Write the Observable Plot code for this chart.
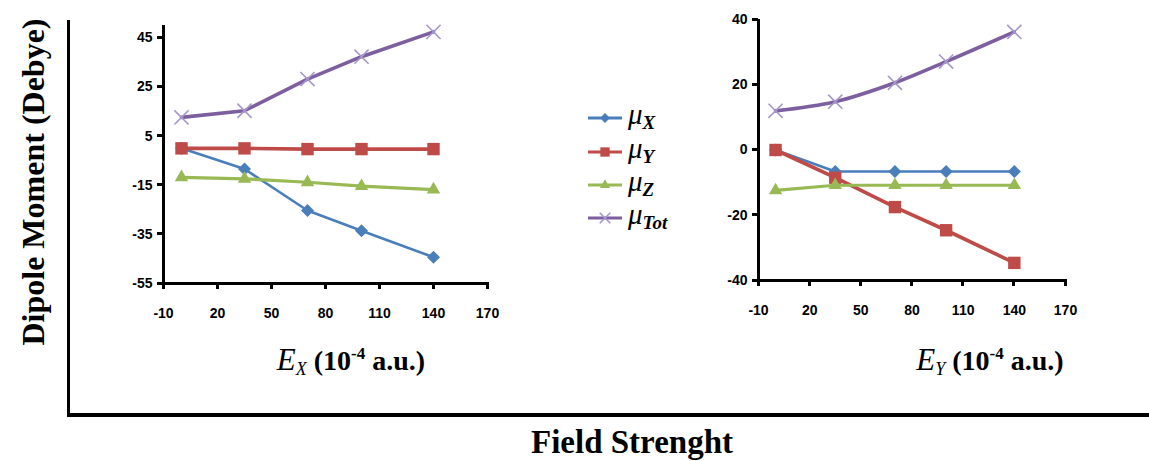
<!DOCTYPE html>
<html>
<head>
<meta charset="utf-8">
<script src="https://cdn.jsdelivr.net/npm/d3@7"></script>
<script src="https://cdn.jsdelivr.net/npm/@observablehq/plot@0.6"></script>
</head>
<body style="margin:0;background:#fff">
<div id="wrap" style="position:relative;width:1149px;height:461px;background:#fff"></div>
<script>
// ---------- data ----------
const fieldValues = [0, 35, 70, 100, 140];
const xTicks = [-10, 20, 50, 80, 110, 140, 170];

const seriesKeys = ["μX", "μY", "μZ", "μTot"];
const seriesSubs = ["X", "Y", "Z", "Tot"];

// Panel 1: field along X
const exMuX   = [0, -8.4, -25.3, -33.5, -44.3];
const exMuY   = [0, 0, -0.3, -0.3, -0.3];
const exMuZ   = [-11.8, -12.4, -13.8, -15.4, -16.8];
const exMuTot = [12.6, 15.3, 28.2, 37.3, 47.4];
const exYTicks = [-55, -35, -15, 5, 25, 45];

// Panel 2: field along Y
const eyMuX   = [0, -6.6, -6.6, -6.6, -6.6];
const eyMuY   = [0, -8.5, -17.5, -24.6, -34.6];
const eyMuZ   = [-12.4, -10.8, -10.8, -10.8, -10.8];
const eyMuTot = [12, 14.8, 20.6, 27.1, 36.2];
const eyYTicks = [-40, -20, 0, 20, 40];

// ---------- styles ----------
const styleOf = {
  "μX":   {color: "#4a7ebb", width: 2.6, symbol: "square",   rot: 45, r: 5.2, fill: "#4a7ebb", stroke: "none"},
  "μY":   {color: "#be4b48", width: 3.6, symbol: "square",   rot: 0,  r: 7.0, fill: "#be4b48", stroke: "none"},
  "μZ":   {color: "#98b954", width: 3.2, symbol: "triangle", rot: 0,  r: 5.0, fill: "#98b954", stroke: "none"},
  "μTot": {color: "#7d5fa0", width: 3.6, symbol: "times",    rot: 0,  r: 6.5, fill: "none",    stroke: "#a597c9"}
};

function buildRows(vals) {
  return seriesKeys.flatMap((k, j) => fieldValues.map((x, i) => ({x, y: vals[j][i], key: k})));
}

function panel({vals, yDomain, yTicks, width, height, mL, mT, mB, mR, curveTot}) {
  const rows = buildRows(vals);
  const marks = [];
  for (const k of seriesKeys) {
    const s = styleOf[k];
    const d = rows.filter(r => r.key === k);
    marks.push(Plot.line(d, {x: "x", y: "y", stroke: s.color, strokeWidth: s.width,
      curve: (k === "μTot" && curveTot) ? "catmull-rom" : "linear"}));
    const dotOpts = {x: "x", y: "y", symbol: s.symbol, r: s.r, rotate: s.rot};
    if (s.fill !== "none") { dotOpts.fill = s.fill; }
    else { dotOpts.stroke = s.stroke; dotOpts.strokeWidth = 1.6; }
    marks.push(Plot.dot(d, dotOpts));
  }
  marks.push(
    Plot.axisX({ticks: xTicks, tickSize: 0, tickPadding: 25, tickFormat: d => String(d), label: null}),
    Plot.axisY({ticks: yTicks, tickSize: 0, tickPadding: 11, tickFormat: d => String(d), label: null})
  );
  return Plot.plot({
    width, height, marginLeft: mL, marginTop: mT, marginBottom: mB, marginRight: mR,
    x: {domain: [-10, 170]},
    y: {domain: yDomain},
    style: {fontFamily: "'Liberation Sans', Arial, sans-serif", fontSize: "14px", fontWeight: "bold",
            color: "#000", background: "transparent", overflow: "visible"},
    marks
  });
}

const wrap = document.getElementById("wrap");

function place(el, left, top) {
  el.style.position = "absolute";
  el.style.left = left + "px";
  el.style.top = top + "px";
  wrap.appendChild(el);
}

function bar(left, top, w, h) {
  const d = document.createElement("div");
  d.style.cssText = `position:absolute;left:${left}px;top:${top}px;width:${w}px;height:${h}px;background:#000;`;
  wrap.appendChild(d);
}

// Axis lines and tick marks, positioned through the plot's own scales
function axisLines(p, left, top, yDomain, yTicks) {
  const sx = p.scale("x"), sy = p.scale("y");
  const x0 = left + sx.apply(-10), x1 = left + sx.apply(170);
  const yb = top + sy.apply(yDomain[0]), yt = top + sy.apply(yDomain[1]);
  bar(x0 - 1.5, yt, 3, yb - yt + 1.5);
  bar(x0 - 1.5, yb - 1.5, x1 - x0 + 3, 3);
  for (const t of xTicks) bar(left + sx.apply(t) - 1.5, yb, 3, 6);
  for (const t of yTicks) bar(x0 - 6, top + sy.apply(t) - 1.5, 6, 3);
}

// Outer frame lines
bar(67, 20, 3, 397);
bar(67, 413, 1082, 4);

// Panel 1
const p1 = panel({vals: [exMuX, exMuY, exMuZ, exMuTot], yDomain: [-55, 50], yTicks: exYTicks,
  width: 414, height: 328, mL: 60, mT: 20, mB: 50, mR: 30, curveTot: false});
place(p1, 103, 5);
axisLines(p1, 103, 5, [-55, 50], exYTicks);

// Panel 2
const p2 = panel({vals: [eyMuX, eyMuY, eyMuZ, eyMuTot], yDomain: [-40, 40], yTicks: eyYTicks,
  width: 397, height: 321, mL: 50, mT: 10, mB: 50, mR: 40, curveTot: true});
place(p2, 708, 9);
axisLines(p2, 708, 9, [-40, 40], eyYTicks);

// Text labels
const SERIF = "'Liberation Serif', 'Times New Roman', serif";
function text(html, css) {
  const d = document.createElement("div");
  d.innerHTML = html;
  d.style.cssText = `position:absolute;white-space:nowrap;line-height:1;color:#000;font-family:${SERIF};` + css;
  wrap.appendChild(d);
  return d;
}
text("Dipole Moment (Debye)",
  "font-weight:bold;left:33px;top:182px;font-size:32px;transform:translate(-50%,-50%) rotate(-90deg);");
text("Field Strenght",
  "font-weight:bold;left:632px;top:426px;font-size:33px;transform:translateX(-50%);");

const axisLabel = (v) =>
  `<i style="font-size:31px">E</i><span style="font-size:18px;font-style:italic;position:relative;top:5px">${v}</span>` +
  `<b style="font-size:28px"> (10<span style="font-size:17px;position:relative;top:-11px">-4</span> a.u.)</b>`;
text(axisLabel("X"), "left:351px;top:344px;transform:translateX(-50%);");
text(axisLabel("Y"), "left:990px;top:344px;transform:translateX(-50%);");

// Legend
const legendY = [118, 152, 185, 218];
const symMap = {square: d3.symbolSquare, triangle: d3.symbolTriangle, times: d3.symbolTimes};
seriesKeys.forEach((k, i) => {
  const s = styleOf[k];
  const svg = d3.create("svg").attr("width", 40).attr("height", 20)
    .style("position", "absolute").style("left", "586px").style("top", (legendY[i] - 10) + "px");
  svg.append("line").attr("x1", 2).attr("x2", 36).attr("y1", 10).attr("y2", 10)
    .attr("stroke", s.color).attr("stroke-width", 3);
  const size = Math.PI * Math.pow(s.r * 0.75, 2);
  svg.append("path").attr("d", d3.symbol(symMap[s.symbol], size)())
    .attr("transform", `translate(19,10) rotate(${s.rot})`)
    .attr("fill", s.fill).attr("stroke", s.fill === "none" ? s.stroke : "none").attr("stroke-width", 1.6);
  wrap.appendChild(svg.node());
  text(`<i style="font-size:29px">μ</i><span style="font-size:19px;font-style:italic;font-weight:bold;position:relative;top:5px">${seriesSubs[i]}</span>`,
    `left:628px;top:${legendY[i] - 18}px;`);
});
</script>
</body>
</html>
